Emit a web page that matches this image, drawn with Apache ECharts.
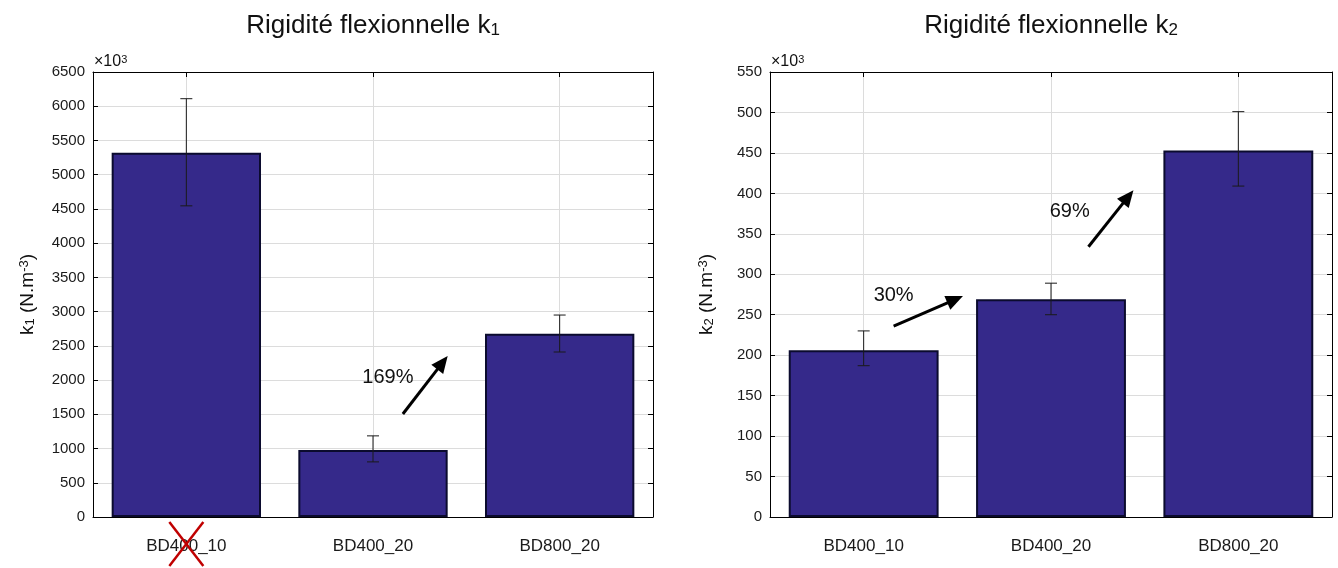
<!DOCTYPE html>
<html><head><meta charset="utf-8">
<script src="https://cdn.jsdelivr.net/npm/echarts@6/dist/echarts.min.js"></script>
<style>html,body{margin:0;padding:0;background:#fff}#c{width:1338px;height:568px}</style>
</head><body><div id="c"></div>
<script>
const categories = ['BD400_10', 'BD400_20', 'BD800_20'];
const k1Values = [5320, 980, 2675];
const k1ErrLow = [4545, 805, 2410];
const k1ErrHigh = [6110, 1185, 2950];
const k2Values = [206, 269, 453];
const k2ErrLow = [187, 250, 409];
const k2ErrHigh = [230, 289, 501];
const k1Axis = { min: 0, max: 6500, interval: 500 };
const k2Axis = { min: 0, max: 550, interval: 50 };
// arrow annotations in data units: [x0, y0, x1, y1, textX, textY]
const k1Arrows = [[1.16, 1505, 1.40, 2352, 1.08, 2045]];
const k1ArrowLabels = ['169%'];
const k2Arrows = [[0.16, 236, 0.53, 273, 0.16, 274], [1.20, 334, 1.44, 404, 1.10, 378]];
const k2ArrowLabels = ['30%', '69%'];
const excludedCategories = ['BD400_10'];

const FONT = 'Liberation Sans, Arial, sans-serif';
const BAR = '#35298A';
const GRIDC = '#dcdcdc';

const chart = echarts.init(document.getElementById('c'), null, { renderer: 'canvas' });

const nameRich = {
  s: { fontSize: 13, lineHeight: 8, verticalAlign: 'bottom', fontFamily: FONT, color: '#111' },
  p: { fontSize: 13, lineHeight: 5, verticalAlign: 'top', fontFamily: FONT, color: '#111' }
};

function errRender(lo, hi) {
  return function (params, api) {
    const i = params.dataIndex;
    const a = api.coord([i, lo[i]]);
    const b = api.coord([i, hi[i]]);
    const w = 6;
    const st = { stroke: '#1a1a1a', lineWidth: 1 };
    return { type: 'group', children: [
      { type: 'line', shape: { x1: a[0], y1: a[1], x2: b[0], y2: b[1] }, style: st },
      { type: 'line', shape: { x1: a[0] - w, y1: a[1], x2: a[0] + w, y2: a[1] }, style: st },
      { type: 'line', shape: { x1: b[0] - w, y1: b[1], x2: b[0] + w, y2: b[1] }, style: st }
    ] };
  };
}

function arrowRender(arr, labels) {
  return function (params, api) {
    const d = arr[params.dataIndex];
    const p0 = api.coord([d[0], d[1]]);
    const p1 = api.coord([d[2], d[3]]);
    const t = api.coord([d[4], d[5]]);
    const dx = p1[0] - p0[0], dy = p1[1] - p0[1];
    const L = Math.hypot(dx, dy), ux = dx / L, uy = dy / L;
    const hl = 17, hw = 7.5;
    const bx = p1[0] - ux * hl, by = p1[1] - uy * hl;
    return { type: 'group', children: [
      { type: 'line', shape: { x1: p0[0], y1: p0[1], x2: bx + ux * 2, y2: by + uy * 2 }, style: { stroke: '#000', lineWidth: 3 } },
      { type: 'polygon', shape: { points: [[p1[0], p1[1]], [bx - uy * hw, by + ux * hw], [bx + uy * hw, by - ux * hw]] }, style: { fill: '#000' } },
      { type: 'text', x: t[0], y: t[1], style: { text: labels[params.dataIndex], fontSize: 20, fontFamily: FONT, fill: '#111', align: 'center', verticalAlign: 'middle' } }
    ] };
  };
}

function crossRender(params, api) {
  const idx = categories.indexOf(excludedCategories[params.dataIndex]);
  const p = api.coord([idx, 0]);
  const st = { stroke: '#c00000', lineWidth: 2.5 };
  return { type: 'group', children: [
    { type: 'line', shape: { x1: p[0] - 17, y1: p[1] + 5, x2: p[0] + 17, y2: p[1] + 49 }, style: st },
    { type: 'line', shape: { x1: p[0] + 17, y1: p[1] + 5, x2: p[0] - 17, y2: p[1] + 49 }, style: st }
  ] };
}

function scaleRender(ymax) {
  return function (params, api) {
    const p = api.coord([-0.5, ymax]);
    return { type: 'text', x: p[0] + 1, y: p[1] - 2, style: { text: '×10{p|3}', fontSize: 16, fontFamily: FONT, fill: '#111', align: 'left', verticalAlign: 'bottom',
      rich: { p: { fontSize: 11, lineHeight: 3, verticalAlign: 'top', fontFamily: FONT, fill: '#111' } } } };
  };
}

function xBottom(grid) {
  return {
    type: 'category', gridIndex: grid, data: categories, position: 'bottom',
    axisLine: { show: true, onZero: false, lineStyle: { color: '#000', width: 1 } },
    axisTick: { show: true, inside: true, alignWithLabel: true, length: 5, lineStyle: { color: '#666' } },
    axisLabel: { fontFamily: FONT, fontSize: 17, color: '#1a1a1a', margin: 21 },
    splitLine: { show: true, alignWithLabel: true, lineStyle: { color: GRIDC, width: 1 } }
  };
}
function xTop(grid, title) {
  return {
    type: 'category', gridIndex: grid, data: categories, position: 'top',
    axisLine: { show: true, onZero: false, lineStyle: { color: '#000', width: 1 } },
    axisTick: { show: true, inside: true, alignWithLabel: true, length: 5, lineStyle: { color: '#000' } },
    axisLabel: { show: false }, splitLine: { show: false },
    name: title, nameLocation: 'middle', nameGap: 33,
    nameTextStyle: { fontFamily: FONT, fontSize: 26, color: '#111', rich: { s: { fontSize: 17, lineHeight: 6, verticalAlign: 'bottom', fontFamily: FONT, color: '#111' } } }
  };
}
function xHidden(grid) {
  return { type: 'value', gridIndex: grid, min: -0.5, max: 2.5, show: false, splitLine: { show: false }, axisLine: { onZero: false } };
}
function yLeft(grid, ax, name, gap) {
  return {
    type: 'value', gridIndex: grid, position: 'left', min: ax.min, max: ax.max, interval: ax.interval,
    axisLine: { show: true, onZero: false, lineStyle: { color: '#000', width: 1 } },
    axisTick: { show: true, inside: true, length: 5, lineStyle: { color: '#000' } },
    axisLabel: { fontFamily: FONT, fontSize: 15, color: '#1a1a1a', margin: 8, formatter: v => String(v) },
    splitLine: { show: true, lineStyle: { color: GRIDC, width: 1 } },
    name: name, nameLocation: 'middle', nameRotate: 90, nameGap: gap,
    nameTextStyle: { fontFamily: FONT, fontSize: 19, color: '#111', rich: nameRich }
  };
}
function yRight(grid, ax) {
  return {
    type: 'value', gridIndex: grid, position: 'right', min: ax.min, max: ax.max, interval: ax.interval,
    axisLine: { show: true, onZero: false, lineStyle: { color: '#000', width: 1 } },
    axisTick: { show: true, inside: true, length: 5, lineStyle: { color: '#000' } },
    axisLabel: { show: false }, splitLine: { show: false }
  };
}

const option = {
  backgroundColor: '#fff',
  animation: false,
  grid: [
    { left: 93, right: 685, top: 72, bottom: 51 },
    { left: 770, right: 6, top: 72, bottom: 51 }
  ],
  xAxis: [xBottom(0), xTop(0, 'Rigidité flexionnelle k{s|1}'), xBottom(1), xTop(1, 'Rigidité flexionnelle k{s|2}'), xHidden(0), xHidden(1)],
  yAxis: [yLeft(0, k1Axis, 'k{s|1} (N.m{p|-3})', 56), yRight(0, k1Axis), yLeft(1, k2Axis, 'k{s|2} (N.m{p|-3})', 54), yRight(1, k2Axis)],
  series: [
    { type: 'bar', xAxisIndex: 0, yAxisIndex: 0, data: k1Values, barWidth: '80%',
      itemStyle: { color: BAR, borderColor: '#0b0b2e', borderWidth: 2 } },
    { type: 'custom', xAxisIndex: 0, yAxisIndex: 0, data: k1Values, renderItem: errRender(k1ErrLow, k1ErrHigh), z: 5 },
    { type: 'bar', xAxisIndex: 2, yAxisIndex: 2, data: k2Values, barWidth: '80%',
      itemStyle: { color: BAR, borderColor: '#0b0b2e', borderWidth: 2 } },
    { type: 'custom', xAxisIndex: 2, yAxisIndex: 2, data: k2Values, renderItem: errRender(k2ErrLow, k2ErrHigh), z: 5 },
    { type: 'custom', xAxisIndex: 4, yAxisIndex: 0, data: k1Arrows.map(a => [a[0], a[1]]), renderItem: arrowRender(k1Arrows, k1ArrowLabels), z: 6, clip: false },
    { type: 'custom', xAxisIndex: 5, yAxisIndex: 2, data: k2Arrows.map(a => [a[0], a[1]]), renderItem: arrowRender(k2Arrows, k2ArrowLabels), z: 6, clip: false },
    { type: 'custom', xAxisIndex: 0, yAxisIndex: 0, data: excludedCategories.map(c => [categories.indexOf(c), 0]), renderItem: crossRender, z: 10, clip: false },
    { type: 'custom', xAxisIndex: 4, yAxisIndex: 0, data: [[-0.5, k1Axis.max]], renderItem: scaleRender(k1Axis.max), z: 10, clip: false },
    { type: 'custom', xAxisIndex: 5, yAxisIndex: 2, data: [[-0.5, k2Axis.max]], renderItem: scaleRender(k2Axis.max), z: 10, clip: false }
  ]
};
chart.setOption(option);
</script>
</body></html>
